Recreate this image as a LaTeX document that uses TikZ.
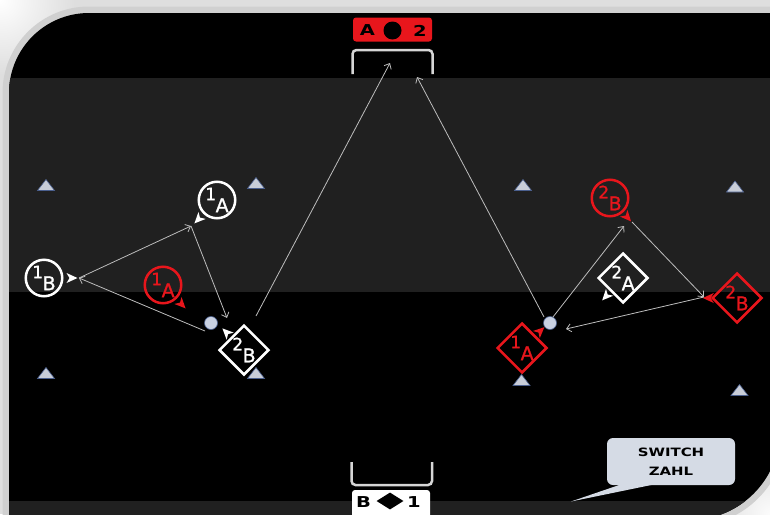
\documentclass[tikz,border=0pt]{standalone}
\usepackage{fontspec}
\setmainfont{DejaVu Sans}
\newfontfamily\techfont[FakeStretch=1.3]{DejaVu Sans}
\newfontfamily\plabfont[FakeBold=1.2]{DejaVu Sans}
\usetikzlibrary{shapes.geometric,arrows.meta}
\definecolor{bgc}{HTML}{DEDEDE}
\definecolor{shadowc}{HTML}{D0D0D0}
\definecolor{bandc}{HTML}{202020}
\definecolor{tred}{HTML}{E8161C}
\definecolor{passc}{HTML}{BDBDBD}
\definecolor{conef}{HTML}{C8CDD8}
\definecolor{conel}{HTML}{4A5F8E}
\definecolor{ballf}{HTML}{C9D1E2}
\definecolor{callf}{HTML}{D5DBE5}
\definecolor{goalc}{HTML}{D6D6D6}
\newcommand\plab[2]{\plabfont\raisebox{5pt}{\fontsize{17}{17}\selectfont #1}\kern-0.5pt\raisebox{-7pt}{\fontsize{19}{19}\selectfont #2}}
\newcommand\fieldpath{(9,600) -- (9,93) .. controls (9,48.8) and (44.8,13) .. (89,13) -- (790,13) -- (780,430) .. controls (780,479.7) and (739.7,520) .. (690,520) -- (9,520) -- cycle}
\newcommand\conemark[2]{\filldraw[fill=conef,draw=conel,line width=0.6pt] ({#1-8.5},{#2+5.5}) -- ({#1+8.5},{#2+5.5}) -- (#1,{#2-5.5}) -- cycle;}
% marker: anchor, angle, colour, offset
\newcommand\pmark[4]{\fill[#3, shift={(#1)}, rotate=#2] ({#4+11},0) -- (#4,5) -- ({#4+3},0) -- (#4,-5) -- cycle;}
\begin{document}
\begin{tikzpicture}[x=1pt,y=-1pt,
  pcirc/.style={circle, draw, line width=2.5pt, minimum size=36.5pt, inner sep=0pt},
  pdiam/.style={diamond, draw, line width=2.5pt, minimum width=50pt, minimum height=50pt, inner sep=0pt},
  wht/.style={draw=white, text=white},
  rd/.style={draw=tred, text=tred},
  ballst/.style={circle, fill=ballf, draw=conel, line width=0.6pt, minimum size=13pt, inner sep=0pt},
  passline/.style={draw=passc, line width=0.8pt, -{Straight Barb[length=4.5pt,width=8pt]}},
  goalline/.style={draw=goalc, line width=2.5pt, rounded corners=4pt},
  tech/.style={font=\techfont\bfseries\fontsize{15}{15}\selectfont, text=black, inner sep=0pt}
]
\useasboundingbox (0,0) rectangle (770,514);
% background
\fill[bgc] (0,0) rectangle (770,514);
\shade[inner color=white, outer color=bgc] (0,0) circle (75);
\shade[inner color=white!90!bgc, outer color=bgc] (770,514) circle (60);
% field shadow and field
\draw[shadowc, line width=13pt] \fieldpath;
\begin{scope}
  \clip \fieldpath;
  \fill[black] (0,0) rectangle (800,540);
  \fill[bandc] (0,78) rectangle (800,292);
  \fill[bandc] (0,501) rectangle (800,540);
\end{scope}
% goals
\draw[goalline] (352.5,74) -- (352.5,50) -- (432.5,50) -- (432.5,74);
\draw[goalline] (351.5,462) -- (351.5,485) -- (432,485) -- (432,462);
\node[fill=tred, rounded corners=3pt, minimum width=79pt, minimum height=24pt, inner sep=0pt] (gA) at (392.5,29.5) {};
\node[tech] (gAa) at (367.5,30.5) {A};
\node[circle, fill=black, minimum size=18pt, inner sep=0pt] (gAdot) at (392.5,30.5) {};
\node[tech] (gA2) at (420,30.5) {2};
\node[fill=white, rounded corners=3pt, minimum width=78pt, minimum height=34pt, inner sep=0pt] (gB) at (391,507) {};
\node[tech] (gBb) at (363.5,502) {B};
\node[diamond, fill=black, minimum width=27pt, minimum height=17pt, inner sep=0pt] (gBdia) at (390,501) {};
\node[tech] (gB1) at (414,502) {1};
% cones
\conemark{46}{185}
\conemark{256}{183}
\conemark{46}{373}
\conemark{256}{373}
\conemark{523}{185}
\conemark{735}{186.5}
\conemark{521.5}{380}
\conemark{739.5}{390}
% balls
\node[ballst] (ball1) at (211,323) {};
\node[ballst] (ball2) at (550,323) {};
% players
\node[pcirc, wht] (p1Bw) at (44,278) {\plab{1}{B}};
\node[pcirc, wht] (p1Aw) at (217,200) {\plab{1}{A}};
\node[pcirc, rd] (p1Ar) at (163,285) {\plab{1}{A}};
\node[pdiam, wht] (p2Bw) at (244,350) {\plab{2}{B}};
\node[pcirc, rd] (p2Br) at (610,198) {\plab{2}{B}};
\node[pdiam, wht] (p2Aw) at (623,278) {\plab{2}{A}};
\node[pdiam, rd] (p2Bd) at (737,298) {\plab{2}{B}};
\node[pdiam, rd] (p1Ad) at (522,348) {\plab{1}{A}};
% facing markers
\pmark{p1Bw.0}{0}{white}{3}
\pmark{p1Aw.-134}{-134}{white}{2}
\pmark{p1Ar.-46}{-46}{tred}{2}
\pmark{p2Bw.135}{135}{white}{1}
\pmark{p2Br.-48}{-48}{tred}{1}
\pmark{p2Aw.-133}{-133}{white}{1}
\pmark{p2Bd.180}{180}{tred}{-3}
\pmark{p1Ad.43}{43}{tred}{1}
% connector end points
\coordinate (kb1o) at (205,331);
\coordinate (k1B) at (79,278);
\coordinate (k1A) at (191,226);
\coordinate (k2B) at (227,318);
\coordinate (ks2B) at (256,316);
\coordinate (kgt1) at (390,63);
\coordinate (kb2o) at (544,317);
\coordinate (kgt2) at (417,77);
\coordinate (kb2u) at (553,317);
\coordinate (kr2Bi) at (624,226);
\coordinate (kr2Bo) at (632,222);
\coordinate (k2Bd) at (704,297);
\coordinate (kb2i) at (566,329);
% passes and runs
\draw[passline] (kb1o) -- (k1B);
\draw[passline] (k1B) -- (k1A);
\draw[passline] (k1A) -- (k2B);
\draw[passline] (ks2B) -- (kgt1);
\draw[passline] (kb2o) -- (kgt2);
\draw[passline] (kb2u) -- (kr2Bi);
\draw[passline] (kr2Bo) -- (k2Bd);
\draw[passline] (k2Bd) -- (kb2i);
% callout
\fill[callf] (625,483) -- (571,501.5) -- (661,483) -- cycle;
\node[fill=callf, rounded corners=6pt, minimum width=128pt, minimum height=47pt, inner sep=0pt, align=center, font=\techfont\bfseries\fontsize{11.5}{18.5}\selectfont] (sw) at (671,461.5) {SWITCH\\ZAHL};
\end{tikzpicture}
\end{document}
